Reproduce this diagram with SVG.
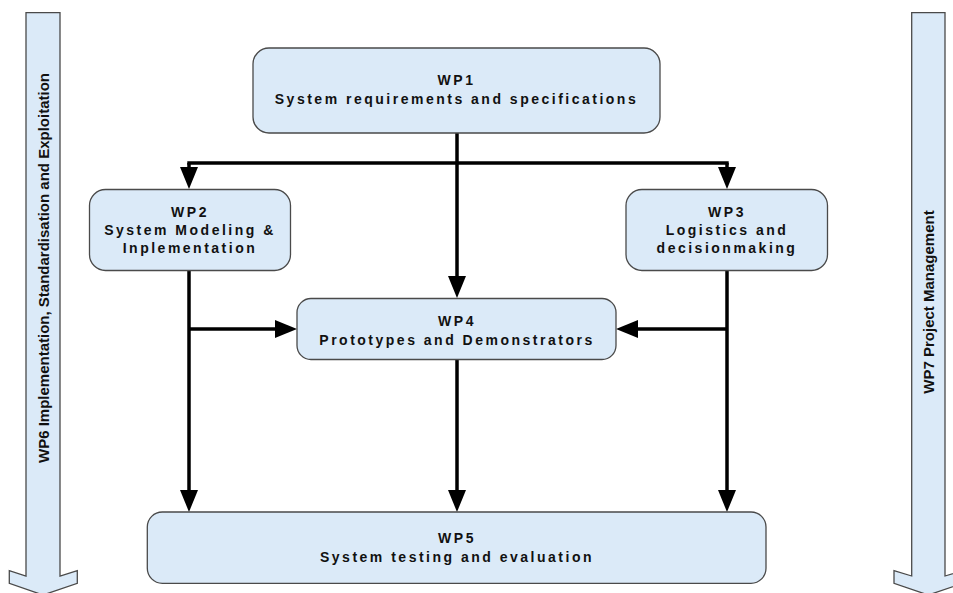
<svg xmlns="http://www.w3.org/2000/svg" width="953" height="593" viewBox="0 0 953 593">
  <style>
    .box { fill: #dbeaf8; stroke: #4a4a4a; stroke-width: 1.3; }
    .band { fill: #dbeaf8; stroke: #4a4a4a; stroke-width: 1.3; stroke-linejoin: miter; }
    .lbl { font-family: "Liberation Sans", Arial, sans-serif; font-weight: bold; font-size: 14px; letter-spacing: 2.5px; fill: #111; text-anchor: middle; }
    .vlbl { font-family: "Liberation Sans", Arial, sans-serif; font-weight: bold; font-size: 15px; fill: #111; text-anchor: middle; }
    .wire { fill: none; stroke: #000; stroke-width: 3.5; }
  </style>
  <defs>
    <marker id="head" viewBox="0 0 22 18" markerWidth="22" markerHeight="18" refX="10" refY="9" orient="auto" markerUnits="userSpaceOnUse">
      <path d="M0,0 L22,9 L0,18 Z" fill="#000"/>
    </marker>
  </defs>

  <rect width="953" height="593" fill="#fff"/>

  <!-- side work packages running through the whole project -->
  <g id="wp6">
    <polygon class="band" points="26,12.7 60,12.7 60,576 77.3,570.7 77.3,583.3 43,595 9.3,583.3 9.3,570.7 26,576"/>
    <text class="vlbl" transform="translate(48.5,268) rotate(-90)">WP6 Implementation, Standardisation and Exploitation</text>
  </g>
  <g id="wp7">
    <polygon class="band" points="911.7,12.7 945,12.7 945,576 962.7,570.7 962.7,583.3 928.3,595 894,583.3 894,570.7 911.7,576"/>
    <text class="vlbl" transform="translate(934,302) rotate(-90)">WP7 Project Management</text>
  </g>

  <!-- connectors -->
  <g id="connectors">
    <path class="wire" d="M457,133 V286" marker-end="url(#head)"/>
    <path class="wire" d="M187.3,163 H728.7"/>
    <path class="wire" d="M189,163 V177" marker-end="url(#head)"/>
    <path class="wire" d="M727,163 V177" marker-end="url(#head)"/>
    <path class="wire" d="M189,271 V500" marker-end="url(#head)"/>
    <path class="wire" d="M189,329 H285" marker-end="url(#head)"/>
    <path class="wire" d="M727,271 V500" marker-end="url(#head)"/>
    <path class="wire" d="M727,329 H628" marker-end="url(#head)"/>
    <path class="wire" d="M457,359 V500" marker-end="url(#head)"/>
  </g>

  <g id="wp1">
    <rect class="box" x="253" y="48" width="407" height="85" rx="16"/>
    <text class="lbl" x="456.5" y="85">WP1</text>
    <text class="lbl" x="456.5" y="104">System requirements and specifications</text>
  </g>
  <g id="wp2">
    <rect class="box" x="89.5" y="189.5" width="201" height="81" rx="16"/>
    <text class="lbl" x="190" y="217">WP2</text>
    <text class="lbl" x="190" y="235">System Modeling &amp;</text>
    <text class="lbl" x="190" y="253">Inplementation</text>
  </g>
  <g id="wp3">
    <rect class="box" x="626" y="189.5" width="201.5" height="81" rx="16"/>
    <text class="lbl" x="727" y="217">WP3</text>
    <text class="lbl" x="727" y="235">Logistics and</text>
    <text class="lbl" x="727" y="253">decisionmaking</text>
  </g>
  <g id="wp4">
    <rect class="box" x="297" y="298.5" width="319" height="61" rx="14"/>
    <text class="lbl" x="457" y="326">WP4</text>
    <text class="lbl" x="457" y="345">Prototypes and Demonstrators</text>
  </g>
  <g id="wp5">
    <rect class="box" x="147.3" y="512" width="618.7" height="71.3" rx="15"/>
    <text class="lbl" x="457" y="543">WP5</text>
    <text class="lbl" x="457" y="562">System testing and evaluation</text>
  </g>
</svg>
